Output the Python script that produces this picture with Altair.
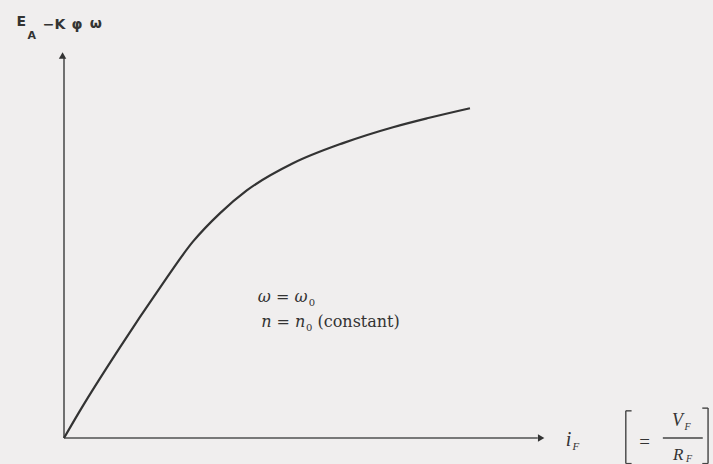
import altair as alt
import pandas as pd

# Magnetization curve: generated EMF vs field current at constant speed
field_current = [0, 3.3, 11.6, 20.0, 26.8, 32.4, 38.0, 47.6, 58.0, 68.4, 75.5, 84.4]
emf = [0, 7.0, 23.3, 38.8, 50.6, 57.9, 63.8, 70.8, 76.0, 80.1, 82.4, 85.0]

curve = pd.DataFrame({"i_f": field_current, "e_a": emf})

X = alt.Scale(domain=[0, 100])
Y = alt.Scale(domain=[0, 100])
INK = "#333333"
AXIS_INK = "#505050"
SERIF = "DejaVu Serif"
SANS = "DejaVu Sans"
TIMES = "Liberation Serif"

# axis lines with arrowheads
axes_df = pd.DataFrame({"x": [0, 0], "y": [0, 0], "x2": [0, 98.5], "y2": [98, 0]})
axes = alt.Chart(axes_df).mark_rule(color=AXIS_INK, strokeWidth=1.6).encode(
    x=alt.X("x:Q", scale=X, axis=None),
    y=alt.Y("y:Q", scale=Y, axis=None),
    x2="x2:Q",
    y2="y2:Q",
)

heads_df = pd.DataFrame({"x": [-0.3, 99.2], "y": [98.6, 0], "shape": ["triangle-up", "triangle-right"]})
heads = alt.Chart(heads_df).mark_point(filled=True, size=55, color="#333333", opacity=1).encode(
    x=alt.X("x:Q", scale=X, axis=None),
    y=alt.Y("y:Q", scale=Y, axis=None),
    shape=alt.Shape("shape:N", scale=None),
)

line = alt.Chart(curve).mark_line(color=INK, strokeWidth=2.2, interpolate="monotone").encode(
    x=alt.X("i_f:Q", scale=X, axis=None),
    y=alt.Y("e_a:Q", scale=Y, axis=None),
)


def label(text, x, y, size, font=SERIF, style="normal", weight="normal", align="left"):
    df = pd.DataFrame({"x": [x], "y": [y], "t": [text]})
    return alt.Chart(df).mark_text(
        align=align, baseline="middle", font=font, fontSize=size,
        fontStyle=style, fontWeight=weight, color="#333333",
    ).encode(
        x=alt.X("x:Q", scale=X, axis=None),
        y=alt.Y("y:Q", scale=Y, axis=None),
        text="t:N",
    )


labels = [
    # vertical axis title
    label("E", -9.9, 107.3, 14, font=SANS, weight="bold"),
    label("A", -7.6, 103.6, 11, font=SANS, weight="bold"),
    label("−K", -4.4, 106.5, 14, font=SANS, weight="bold"),
    label("φ", 2.7, 106.4, 14, font=SANS, weight="bold", align="center"),
    label("ω", 6.6, 106.6, 14, font=SANS, weight="bold", align="center"),
    # operating condition
    label("ω = ω", 40.3, 36.3, 16, style="italic"),
    label("0", 50.9, 34.7, 10),
    label("n = n", 41.0, 29.9, 16, style="italic"),
    label("0", 50.3, 28.3, 10),
    label("(constant)", 52.7, 29.9, 16),
    # horizontal axis title
    label("i", 104.3, -0.4, 20, font=TIMES, style="italic"),
    label("F", 105.7, -2.3, 11, font=TIMES, style="italic"),
    label("=", 119.6, -1.0, 19, font=TIMES),
    label("V", 126.4, 4.4, 18, font=TIMES, style="italic"),
    label("F", 129.0, 2.9, 10, font=TIMES, style="italic"),
    label("R", 126.6, -4.3, 17, font=TIMES, style="italic"),
    label("F", 129.3, -5.5, 10, font=TIMES, style="italic"),
]

# bracketed ratio V_F / R_F
seg_df = pd.DataFrame({
    "x": [116.8, 116.8, 116.8, 124.5, 133.9, 133.9, 133.9],
    "x2": [116.8, 118.0, 118.0, 132.8, 133.9, 132.7, 132.7],
    "y": [7.0, 7.0, -6.6, 0.0, 7.7, 7.7, -6.6],
    "y2": [-6.6, 7.0, -6.6, 0.0, -6.6, 7.7, -6.6],
})
segs = alt.Chart(seg_df).mark_rule(color="#444444", strokeWidth=1.4).encode(
    x=alt.X("x:Q", scale=X, axis=None),
    y=alt.Y("y:Q", scale=Y, axis=None),
    x2="x2:Q",
    y2="y2:Q",
)

chart = alt.layer(axes, heads, line, segs, *labels).properties(
    width=481,
    height=388,
    autosize=alt.AutoSizeParams(type="none"),
    padding={"left": 64, "top": 50, "right": 168, "bottom": 26},
    background="#f0eeee",
).configure_view(stroke=None)

chart.save("out.html", embed_options={"renderer": "svg", "actions": False})
